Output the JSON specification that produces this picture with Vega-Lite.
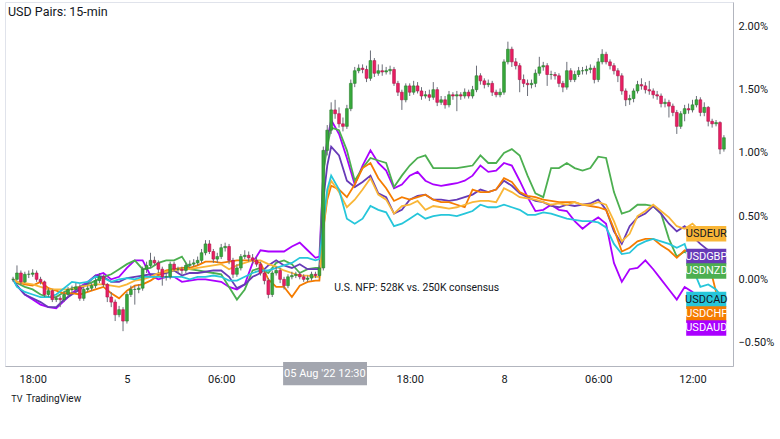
{
"$schema":"https://vega.github.io/schema/vega-lite/v6.json",
"width":728,"height":364,
"autosize":{"type":"none"},
"padding":{"left":5,"top":2,"right":47,"bottom":73},
"background":"white",
"config":{"view":{"stroke":"#e0e3eb"},"font":"Roboto"},
"title":{"text":"USD Pairs: 15-min","anchor":"start","frame":"group","orient":"top","offset":-16,"dx":3,"fontSize":12.5,"fontWeight":"normal","color":"#131722","font":"Roboto"},
"datasets":{
"candles":[
{"t":-1.25,"o":0,"h":0.02,"l":-0.02,"c":0},
{"t":-1,"o":0,"h":0.11,"l":-0.01,"c":0.05},
{"t":-0.75,"o":0.05,"h":0.07,"l":-0.04,"c":-0.02},
{"t":-0.5,"o":-0.02,"h":0.06,"l":-0.03,"c":0.04},
{"t":-0.25,"o":0.04,"h":0.07,"l":0.01,"c":0.04},
{"t":0,"o":0.04,"h":0.08,"l":0.02,"c":0.05},
{"t":0.25,"o":0.05,"h":0.07,"l":-0.02,"c":0},
{"t":0.5,"o":0,"h":0.02,"l":-0.04,"c":-0.02},
{"t":0.75,"o":-0.02,"h":-0.01,"l":-0.14,"c":-0.12},
{"t":1,"o":-0.12,"h":-0.07,"l":-0.14,"c":-0.09},
{"t":1.25,"o":-0.09,"h":-0.08,"l":-0.18,"c":-0.16},
{"t":1.5,"o":-0.16,"h":-0.13,"l":-0.18,"c":-0.15},
{"t":1.75,"o":-0.15,"h":-0.13,"l":-0.22,"c":-0.16},
{"t":2,"o":-0.16,"h":-0.1,"l":-0.18,"c":-0.12},
{"t":2.25,"o":-0.12,"h":-0.06,"l":-0.14,"c":-0.08},
{"t":2.5,"o":-0.08,"h":-0.05,"l":-0.11,"c":-0.08},
{"t":2.75,"o":-0.08,"h":-0.03,"l":-0.1,"c":-0.06},
{"t":3,"o":-0.06,"h":-0.04,"l":-0.17,"c":-0.15},
{"t":3.25,"o":-0.15,"h":-0.06,"l":-0.17,"c":-0.08},
{"t":3.5,"o":-0.08,"h":-0.05,"l":-0.1,"c":-0.07},
{"t":3.75,"o":-0.07,"h":-0.03,"l":-0.09,"c":-0.05},
{"t":4,"o":-0.05,"h":0.01,"l":-0.07,"c":-0.01},
{"t":4.25,"o":-0.01,"h":0.05,"l":-0.03,"c":0.02},
{"t":4.5,"o":0.02,"h":0.04,"l":-0.06,"c":-0.04},
{"t":4.75,"o":-0.04,"h":-0.03,"l":-0.18,"c":-0.14},
{"t":5,"o":-0.14,"h":-0.1,"l":-0.22,"c":-0.18},
{"t":5.25,"o":-0.18,"h":-0.16,"l":-0.33,"c":-0.28},
{"t":5.5,"o":-0.28,"h":-0.21,"l":-0.3,"c":-0.24},
{"t":5.75,"o":-0.24,"h":-0.22,"l":-0.41,"c":-0.33},
{"t":6,"o":-0.33,"h":-0.1,"l":-0.35,"c":-0.12},
{"t":6.25,"o":-0.12,"h":-0.05,"l":-0.14,"c":-0.08},
{"t":6.5,"o":-0.08,"h":-0.05,"l":-0.2,"c":-0.08},
{"t":6.75,"o":-0.08,"h":-0.04,"l":-0.11,"c":-0.07},
{"t":7,"o":-0.07,"h":0.1,"l":-0.09,"c":0.08},
{"t":7.25,"o":0.08,"h":0.14,"l":0.05,"c":0.11},
{"t":7.5,"o":0.11,"h":0.21,"l":0.09,"c":0.15},
{"t":7.75,"o":0.15,"h":0.18,"l":0.11,"c":0.13},
{"t":8,"o":0.13,"h":0.15,"l":0.05,"c":0.08},
{"t":8.25,"o":0.08,"h":0.1,"l":-0.05,"c":0.02},
{"t":8.5,"o":0.02,"h":0.05,"l":-0.01,"c":0.02},
{"t":8.75,"o":0.02,"h":0.14,"l":0,"c":0.12},
{"t":9,"o":0.12,"h":0.14,"l":0.06,"c":0.08},
{"t":9.25,"o":0.08,"h":0.1,"l":0.05,"c":0.08},
{"t":9.5,"o":0.08,"h":0.1,"l":0.04,"c":0.07},
{"t":9.75,"o":0.07,"h":0.13,"l":0.05,"c":0.11},
{"t":10,"o":0.11,"h":0.15,"l":0.09,"c":0.12},
{"t":10.25,"o":0.12,"h":0.16,"l":0.1,"c":0.13},
{"t":10.5,"o":0.13,"h":0.18,"l":0.11,"c":0.15},
{"t":10.75,"o":0.15,"h":0.24,"l":0.13,"c":0.21},
{"t":11,"o":0.21,"h":0.31,"l":0.19,"c":0.28},
{"t":11.25,"o":0.28,"h":0.31,"l":0.2,"c":0.22},
{"t":11.5,"o":0.22,"h":0.24,"l":0.13,"c":0.16},
{"t":11.75,"o":0.16,"h":0.21,"l":0.13,"c":0.18},
{"t":12,"o":0.18,"h":0.28,"l":0.16,"c":0.25},
{"t":12.25,"o":0.25,"h":0.29,"l":0.22,"c":0.26},
{"t":12.5,"o":0.26,"h":0.28,"l":0.12,"c":0.15},
{"t":12.75,"o":0.15,"h":0.17,"l":0.01,"c":0.04},
{"t":13,"o":0.04,"h":0.12,"l":0.02,"c":0.09},
{"t":13.25,"o":0.09,"h":0.2,"l":0.07,"c":0.18},
{"t":13.5,"o":0.18,"h":0.23,"l":0.16,"c":0.19},
{"t":13.75,"o":0.19,"h":0.22,"l":0.14,"c":0.17},
{"t":14,"o":0.17,"h":0.2,"l":0.12,"c":0.15},
{"t":14.25,"o":0.15,"h":0.18,"l":0.1,"c":0.12},
{"t":14.5,"o":0.12,"h":0.14,"l":0.03,"c":0.05},
{"t":14.75,"o":0.05,"h":0.07,"l":-0.04,"c":-0.01},
{"t":15,"o":-0.01,"h":0.01,"l":-0.15,"c":-0.12},
{"t":15.25,"o":-0.12,"h":0.07,"l":-0.14,"c":0.05},
{"t":15.5,"o":0.05,"h":0.1,"l":0.03,"c":0.07},
{"t":15.75,"o":0.07,"h":0.09,"l":-0.03,"c":0},
{"t":16,"o":0,"h":0.02,"l":-0.08,"c":-0.05},
{"t":16.25,"o":-0.05,"h":0.04,"l":-0.07,"c":0.02},
{"t":16.5,"o":0.02,"h":0.06,"l":0,"c":0.03},
{"t":16.75,"o":0.03,"h":0.06,"l":0.01,"c":0.04},
{"t":17,"o":0.04,"h":0.06,"l":0,"c":0.02},
{"t":17.25,"o":0.02,"h":0.04,"l":-0.02,"c":0},
{"t":17.5,"o":0,"h":0.03,"l":-0.02,"c":0.01},
{"t":17.75,"o":0.01,"h":0.06,"l":-0.01,"c":0.04},
{"t":18,"o":0.04,"h":0.06,"l":0.01,"c":0.03},
{"t":18.25,"o":0.03,"h":0.11,"l":0.01,"c":0.09},
{"t":18.5,"o":0.09,"h":1.05,"l":0.07,"c":1.02},
{"t":18.75,"o":1.02,"h":1.22,"l":0.98,"c":1.18},
{"t":19,"o":1.18,"h":1.4,"l":1.15,"c":1.34},
{"t":19.25,"o":1.34,"h":1.42,"l":1.27,"c":1.31},
{"t":19.5,"o":1.31,"h":1.36,"l":1.2,"c":1.23},
{"t":19.75,"o":1.23,"h":1.28,"l":1.17,"c":1.21},
{"t":20,"o":1.21,"h":1.38,"l":1.19,"c":1.35},
{"t":20.25,"o":1.35,"h":1.58,"l":1.33,"c":1.55},
{"t":20.5,"o":1.55,"h":1.68,"l":1.52,"c":1.65},
{"t":20.75,"o":1.65,"h":1.7,"l":1.63,"c":1.67},
{"t":21,"o":1.67,"h":1.7,"l":1.63,"c":1.66},
{"t":21.25,"o":1.66,"h":1.69,"l":1.56,"c":1.59},
{"t":21.5,"o":1.59,"h":1.81,"l":1.57,"c":1.73},
{"t":21.75,"o":1.73,"h":1.75,"l":1.6,"c":1.63},
{"t":22,"o":1.63,"h":1.7,"l":1.61,"c":1.65},
{"t":22.25,"o":1.65,"h":1.7,"l":1.61,"c":1.64},
{"t":22.5,"o":1.64,"h":1.68,"l":1.62,"c":1.65},
{"t":22.75,"o":1.65,"h":1.69,"l":1.62,"c":1.66},
{"t":23,"o":1.66,"h":1.68,"l":1.53,"c":1.55},
{"t":23.25,"o":1.55,"h":1.57,"l":1.45,"c":1.48},
{"t":23.5,"o":1.48,"h":1.5,"l":1.34,"c":1.42},
{"t":23.75,"o":1.42,"h":1.55,"l":1.4,"c":1.53},
{"t":24,"o":1.53,"h":1.55,"l":1.45,"c":1.48},
{"t":24.25,"o":1.48,"h":1.57,"l":1.46,"c":1.53},
{"t":24.5,"o":1.53,"h":1.56,"l":1.47,"c":1.49},
{"t":24.75,"o":1.49,"h":1.52,"l":1.42,"c":1.45},
{"t":25,"o":1.45,"h":1.49,"l":1.43,"c":1.46},
{"t":25.25,"o":1.46,"h":1.5,"l":1.41,"c":1.44},
{"t":25.5,"o":1.44,"h":1.56,"l":1.42,"c":1.5},
{"t":25.75,"o":1.5,"h":1.52,"l":1.37,"c":1.4},
{"t":26,"o":1.4,"h":1.45,"l":1.38,"c":1.42},
{"t":26.25,"o":1.42,"h":1.45,"l":1.35,"c":1.38},
{"t":26.5,"o":1.38,"h":1.49,"l":1.36,"c":1.46},
{"t":26.75,"o":1.46,"h":1.48,"l":1.42,"c":1.45},
{"t":27,"o":1.45,"h":1.49,"l":1.33,"c":1.46},
{"t":27.25,"o":1.46,"h":1.48,"l":1.42,"c":1.45},
{"t":27.5,"o":1.45,"h":1.51,"l":1.43,"c":1.48},
{"t":27.75,"o":1.48,"h":1.5,"l":1.43,"c":1.45},
{"t":28,"o":1.45,"h":1.53,"l":1.43,"c":1.5},
{"t":28.25,"o":1.5,"h":1.69,"l":1.48,"c":1.61},
{"t":28.5,"o":1.61,"h":1.63,"l":1.54,"c":1.57},
{"t":28.75,"o":1.57,"h":1.59,"l":1.51,"c":1.54},
{"t":29,"o":1.54,"h":1.58,"l":1.52,"c":1.55},
{"t":29.25,"o":1.55,"h":1.57,"l":1.45,"c":1.48},
{"t":29.5,"o":1.48,"h":1.5,"l":1.44,"c":1.46},
{"t":29.75,"o":1.46,"h":1.51,"l":1.44,"c":1.48},
{"t":30,"o":1.48,"h":1.74,"l":1.46,"c":1.72},
{"t":30.25,"o":1.72,"h":1.88,"l":1.7,"c":1.82},
{"t":30.5,"o":1.82,"h":1.84,"l":1.68,"c":1.72},
{"t":30.75,"o":1.72,"h":1.75,"l":1.66,"c":1.69},
{"t":31,"o":1.69,"h":1.71,"l":1.48,"c":1.58},
{"t":31.25,"o":1.58,"h":1.62,"l":1.52,"c":1.55},
{"t":31.5,"o":1.55,"h":1.58,"l":1.45,"c":1.54},
{"t":31.75,"o":1.54,"h":1.58,"l":1.51,"c":1.55},
{"t":32,"o":1.55,"h":1.66,"l":1.52,"c":1.63},
{"t":32.25,"o":1.63,"h":1.76,"l":1.61,"c":1.68},
{"t":32.5,"o":1.68,"h":1.72,"l":1.65,"c":1.69},
{"t":32.75,"o":1.69,"h":1.71,"l":1.53,"c":1.62},
{"t":33,"o":1.62,"h":1.65,"l":1.58,"c":1.62},
{"t":33.25,"o":1.62,"h":1.64,"l":1.58,"c":1.61},
{"t":33.5,"o":1.61,"h":1.63,"l":1.52,"c":1.55},
{"t":33.75,"o":1.55,"h":1.57,"l":1.48,"c":1.52},
{"t":34,"o":1.52,"h":1.72,"l":1.5,"c":1.65},
{"t":34.25,"o":1.65,"h":1.67,"l":1.56,"c":1.58},
{"t":34.5,"o":1.58,"h":1.65,"l":1.56,"c":1.62},
{"t":34.75,"o":1.62,"h":1.68,"l":1.6,"c":1.65},
{"t":35,"o":1.65,"h":1.68,"l":1.62,"c":1.65},
{"t":35.25,"o":1.65,"h":1.69,"l":1.62,"c":1.66},
{"t":35.5,"o":1.66,"h":1.7,"l":1.63,"c":1.67},
{"t":35.75,"o":1.67,"h":1.69,"l":1.55,"c":1.58},
{"t":36,"o":1.58,"h":1.75,"l":1.56,"c":1.72},
{"t":36.25,"o":1.72,"h":1.82,"l":1.7,"c":1.78},
{"t":36.5,"o":1.78,"h":1.8,"l":1.7,"c":1.72},
{"t":36.75,"o":1.72,"h":1.74,"l":1.66,"c":1.69},
{"t":37,"o":1.69,"h":1.71,"l":1.62,"c":1.65},
{"t":37.25,"o":1.65,"h":1.67,"l":1.56,"c":1.61},
{"t":37.5,"o":1.61,"h":1.63,"l":1.46,"c":1.49},
{"t":37.75,"o":1.49,"h":1.51,"l":1.37,"c":1.42},
{"t":38,"o":1.42,"h":1.46,"l":1.38,"c":1.43},
{"t":38.25,"o":1.43,"h":1.51,"l":1.4,"c":1.49},
{"t":38.5,"o":1.49,"h":1.57,"l":1.47,"c":1.54},
{"t":38.75,"o":1.54,"h":1.59,"l":1.5,"c":1.53},
{"t":39,"o":1.53,"h":1.56,"l":1.47,"c":1.5},
{"t":39.25,"o":1.5,"h":1.57,"l":1.46,"c":1.49},
{"t":39.5,"o":1.49,"h":1.51,"l":1.43,"c":1.46},
{"t":39.75,"o":1.46,"h":1.49,"l":1.42,"c":1.45},
{"t":40,"o":1.45,"h":1.47,"l":1.36,"c":1.39},
{"t":40.25,"o":1.39,"h":1.43,"l":1.36,"c":1.4},
{"t":40.5,"o":1.4,"h":1.42,"l":1.28,"c":1.37},
{"t":40.75,"o":1.37,"h":1.39,"l":1.29,"c":1.32},
{"t":41,"o":1.32,"h":1.34,"l":1.15,"c":1.21},
{"t":41.25,"o":1.21,"h":1.33,"l":1.19,"c":1.31},
{"t":41.5,"o":1.31,"h":1.38,"l":1.25,"c":1.35},
{"t":41.75,"o":1.35,"h":1.39,"l":1.31,"c":1.34},
{"t":42,"o":1.34,"h":1.42,"l":1.32,"c":1.38},
{"t":42.25,"o":1.38,"h":1.45,"l":1.36,"c":1.42},
{"t":42.5,"o":1.42,"h":1.44,"l":1.29,"c":1.32},
{"t":42.75,"o":1.32,"h":1.4,"l":1.29,"c":1.36},
{"t":43,"o":1.36,"h":1.37,"l":1.21,"c":1.25},
{"t":43.25,"o":1.25,"h":1.27,"l":1.2,"c":1.23},
{"t":43.5,"o":1.23,"h":1.26,"l":1.21,"c":1.24},
{"t":43.75,"o":1.24,"h":1.25,"l":0.99,"c":1.03},
{"t":44,"o":1.03,"h":1.14,"l":1.01,"c":1.12}
],
"lines":[
{"t":-1.25,"USDAUD":0,"USDNZD":0,"USDGBP":0,"USDCHF":0,"USDEUR":0,"USDCAD":0},
{"t":-1,"USDAUD":-0.05,"USDNZD":-0.03,"USDGBP":-0.05,"USDCHF":-0.02,"USDEUR":-0.02,"USDCAD":-0.06},
{"t":-0.5,"USDAUD":-0.12,"USDNZD":-0.06,"USDGBP":-0.12,"USDCHF":-0.04,"USDEUR":-0.03,"USDCAD":-0.1},
{"t":0,"USDAUD":-0.16,"USDNZD":-0.08,"USDGBP":-0.15,"USDCHF":-0.05,"USDEUR":-0.04,"USDCAD":-0.12},
{"t":0.5,"USDAUD":-0.2,"USDNZD":-0.12,"USDGBP":-0.18,"USDCHF":-0.02,"USDEUR":-0.06,"USDCAD":-0.14},
{"t":1,"USDAUD":-0.22,"USDNZD":-0.14,"USDGBP":-0.22,"USDCHF":-0.07,"USDEUR":-0.08,"USDCAD":-0.14},
{"t":1.5,"USDAUD":-0.23,"USDNZD":-0.14,"USDGBP":-0.22,"USDCHF":-0.09,"USDEUR":-0.08,"USDCAD":-0.12},
{"t":2,"USDAUD":-0.17,"USDNZD":-0.1,"USDGBP":-0.16,"USDCHF":-0.11,"USDEUR":-0.08,"USDCAD":-0.07},
{"t":2.5,"USDAUD":-0.11,"USDNZD":-0.07,"USDGBP":-0.12,"USDCHF":-0.11,"USDEUR":-0.08,"USDCAD":-0.02},
{"t":3,"USDAUD":-0.06,"USDNZD":-0.06,"USDGBP":-0.08,"USDCHF":-0.12,"USDEUR":-0.06,"USDCAD":-0.03},
{"t":3.5,"USDAUD":-0.02,"USDNZD":-0.04,"USDGBP":-0.03,"USDCHF":-0.1,"USDEUR":-0.05,"USDCAD":-0.02},
{"t":4,"USDAUD":0.03,"USDNZD":-0.01,"USDGBP":0.03,"USDCHF":-0.08,"USDEUR":-0.04,"USDCAD":0.02},
{"t":4.5,"USDAUD":0.05,"USDNZD":0.02,"USDGBP":0.02,"USDCHF":-0.06,"USDEUR":-0.04,"USDCAD":0.01},
{"t":5,"USDAUD":0,"USDNZD":0.04,"USDGBP":-0.02,"USDCHF":-0.11,"USDEUR":-0.05,"USDCAD":-0.02},
{"t":5.5,"USDAUD":0.02,"USDNZD":0.08,"USDGBP":-0.02,"USDCHF":-0.15,"USDEUR":-0.06,"USDCAD":0},
{"t":6,"USDAUD":0.09,"USDNZD":0.12,"USDGBP":0.01,"USDCHF":-0.09,"USDEUR":-0.04,"USDCAD":0.01},
{"t":6.5,"USDAUD":0.15,"USDNZD":0.15,"USDGBP":0.02,"USDCHF":-0.05,"USDEUR":-0.01,"USDCAD":0},
{"t":7,"USDAUD":0.15,"USDNZD":0.08,"USDGBP":0.03,"USDCHF":-0.04,"USDEUR":0,"USDCAD":0.02},
{"t":7.5,"USDAUD":0.03,"USDNZD":0.09,"USDGBP":0.04,"USDCHF":-0.01,"USDEUR":0.02,"USDCAD":0.02},
{"t":8,"USDAUD":0,"USDNZD":0.13,"USDGBP":0.04,"USDCHF":0.03,"USDEUR":0.05,"USDCAD":0.02},
{"t":8.5,"USDAUD":0.02,"USDNZD":0.15,"USDGBP":0.05,"USDCHF":0.07,"USDEUR":0.06,"USDCAD":0.02},
{"t":9,"USDAUD":0.02,"USDNZD":0.15,"USDGBP":0.07,"USDCHF":0.08,"USDEUR":0.07,"USDCAD":0.02},
{"t":9.5,"USDAUD":-0.02,"USDNZD":0.18,"USDGBP":0.03,"USDCHF":0.09,"USDEUR":0.08,"USDCAD":0.02},
{"t":10,"USDAUD":-0.01,"USDNZD":0.08,"USDGBP":0.05,"USDCHF":0.09,"USDEUR":0.08,"USDCAD":0},
{"t":10.5,"USDAUD":0,"USDNZD":0.07,"USDGBP":0.05,"USDCHF":0.11,"USDEUR":0.09,"USDCAD":0.02},
{"t":11,"USDAUD":0,"USDNZD":0.06,"USDGBP":0.06,"USDCHF":0.14,"USDEUR":0.1,"USDCAD":0.02},
{"t":11.5,"USDAUD":-0.01,"USDNZD":0.05,"USDGBP":0.07,"USDCHF":0.14,"USDEUR":0.11,"USDCAD":0.03},
{"t":12,"USDAUD":-0.02,"USDNZD":0.04,"USDGBP":0.07,"USDCHF":0.13,"USDEUR":0.12,"USDCAD":0.02},
{"t":12.5,"USDAUD":-0.06,"USDNZD":-0.06,"USDGBP":0.02,"USDCHF":0.14,"USDEUR":0.08,"USDCAD":-0.01},
{"t":13,"USDAUD":-0.08,"USDNZD":-0.16,"USDGBP":-0.07,"USDCHF":0.15,"USDEUR":0.11,"USDCAD":-0.01},
{"t":13.5,"USDAUD":-0.04,"USDNZD":-0.08,"USDGBP":-0.04,"USDCHF":0.15,"USDEUR":0.13,"USDCAD":0.02},
{"t":14,"USDAUD":0.13,"USDNZD":0.07,"USDGBP":0.02,"USDCHF":0.15,"USDEUR":0.15,"USDCAD":0.05},
{"t":14.5,"USDAUD":0.23,"USDNZD":0.09,"USDGBP":0.05,"USDCHF":0.13,"USDEUR":0.15,"USDCAD":0.07},
{"t":15,"USDAUD":0.22,"USDNZD":0.05,"USDGBP":0.11,"USDCHF":0,"USDEUR":0.12,"USDCAD":0.07},
{"t":15.5,"USDAUD":0.22,"USDNZD":0.13,"USDGBP":0.15,"USDCHF":-0.06,"USDEUR":0.1,"USDCAD":0.09},
{"t":16,"USDAUD":0.22,"USDNZD":0.15,"USDGBP":0.11,"USDCHF":-0.06,"USDEUR":0.07,"USDCAD":0.11},
{"t":16.5,"USDAUD":0.26,"USDNZD":0.12,"USDGBP":0.09,"USDCHF":-0.14,"USDEUR":0.05,"USDCAD":0.13},
{"t":17,"USDAUD":0.29,"USDNZD":0.05,"USDGBP":0.12,"USDCHF":-0.05,"USDEUR":0.03,"USDCAD":0.17},
{"t":17.5,"USDAUD":0.23,"USDNZD":0.08,"USDGBP":0.08,"USDCHF":-0.02,"USDEUR":0.03,"USDCAD":0.17},
{"t":18,"USDAUD":0.17,"USDNZD":0.09,"USDGBP":0.08,"USDCHF":-0.01,"USDEUR":0.02,"USDCAD":0.15},
{"t":18.25,"USDAUD":0.18,"USDNZD":0.09,"USDGBP":0.08,"USDCHF":-0.01,"USDEUR":0.02,"USDCAD":0.16},
{"t":18.5,"USDAUD":0.85,"USDNZD":0.85,"USDGBP":0.63,"USDCHF":0.4,"USDEUR":0.4,"USDCAD":0.44},
{"t":18.75,"USDAUD":1.1,"USDNZD":1.05,"USDGBP":0.9,"USDCHF":0.63,"USDEUR":0.67,"USDCAD":0.71},
{"t":19,"USDAUD":1.26,"USDNZD":1.2,"USDGBP":1.05,"USDCHF":0.74,"USDEUR":0.78,"USDCAD":0.82},
{"t":19.5,"USDAUD":1.15,"USDNZD":1.18,"USDGBP":0.98,"USDCHF":0.71,"USDEUR":0.69,"USDCAD":0.71},
{"t":20,"USDAUD":0.96,"USDNZD":1.02,"USDGBP":0.78,"USDCHF":0.65,"USDEUR":0.57,"USDCAD":0.48},
{"t":20.5,"USDAUD":0.75,"USDNZD":0.78,"USDGBP":0.73,"USDCHF":0.75,"USDEUR":0.63,"USDCAD":0.44},
{"t":21,"USDAUD":0.9,"USDNZD":0.88,"USDGBP":0.77,"USDCHF":0.88,"USDEUR":0.71,"USDCAD":0.48},
{"t":21.5,"USDAUD":1.02,"USDNZD":0.96,"USDGBP":0.82,"USDCHF":0.92,"USDEUR":0.8,"USDCAD":0.58},
{"t":22,"USDAUD":0.92,"USDNZD":0.94,"USDGBP":0.68,"USDCHF":0.8,"USDEUR":0.67,"USDCAD":0.55},
{"t":22.5,"USDAUD":0.86,"USDNZD":0.92,"USDGBP":0.65,"USDCHF":0.72,"USDEUR":0.63,"USDCAD":0.53},
{"t":23,"USDAUD":0.72,"USDNZD":0.73,"USDGBP":0.52,"USDCHF":0.62,"USDEUR":0.52,"USDCAD":0.42},
{"t":23.5,"USDAUD":0.75,"USDNZD":0.82,"USDGBP":0.55,"USDCHF":0.65,"USDEUR":0.58,"USDCAD":0.44},
{"t":24,"USDAUD":0.82,"USDNZD":0.9,"USDGBP":0.63,"USDCHF":0.63,"USDEUR":0.59,"USDCAD":0.48},
{"t":24.5,"USDAUD":0.85,"USDNZD":0.96,"USDGBP":0.66,"USDCHF":0.65,"USDEUR":0.62,"USDCAD":0.52},
{"t":25,"USDAUD":0.78,"USDNZD":0.98,"USDGBP":0.67,"USDCHF":0.67,"USDEUR":0.55,"USDCAD":0.48},
{"t":25.5,"USDAUD":0.75,"USDNZD":0.88,"USDGBP":0.63,"USDCHF":0.63,"USDEUR":0.58,"USDCAD":0.5},
{"t":26,"USDAUD":0.74,"USDNZD":0.88,"USDGBP":0.63,"USDCHF":0.61,"USDEUR":0.57,"USDCAD":0.51},
{"t":26.5,"USDAUD":0.75,"USDNZD":0.88,"USDGBP":0.62,"USDCHF":0.61,"USDEUR":0.56,"USDCAD":0.51},
{"t":27,"USDAUD":0.76,"USDNZD":0.88,"USDGBP":0.63,"USDCHF":0.59,"USDEUR":0.57,"USDCAD":0.5},
{"t":27.5,"USDAUD":0.78,"USDNZD":0.89,"USDGBP":0.65,"USDCHF":0.57,"USDEUR":0.59,"USDCAD":0.52},
{"t":28,"USDAUD":0.82,"USDNZD":0.9,"USDGBP":0.67,"USDCHF":0.71,"USDEUR":0.61,"USDCAD":0.54},
{"t":28.5,"USDAUD":0.9,"USDNZD":0.98,"USDGBP":0.71,"USDCHF":0.69,"USDEUR":0.62,"USDCAD":0.59},
{"t":29,"USDAUD":0.85,"USDNZD":0.92,"USDGBP":0.69,"USDCHF":0.69,"USDEUR":0.62,"USDCAD":0.57},
{"t":29.5,"USDAUD":0.86,"USDNZD":0.92,"USDGBP":0.71,"USDCHF":0.71,"USDEUR":0.61,"USDCAD":0.57},
{"t":30,"USDAUD":0.92,"USDNZD":1,"USDGBP":0.78,"USDCHF":0.8,"USDEUR":0.72,"USDCAD":0.59},
{"t":30.5,"USDAUD":0.9,"USDNZD":1.03,"USDGBP":0.74,"USDCHF":0.77,"USDEUR":0.69,"USDCAD":0.57},
{"t":31,"USDAUD":0.78,"USDNZD":0.98,"USDGBP":0.68,"USDCHF":0.69,"USDEUR":0.65,"USDCAD":0.55},
{"t":31.5,"USDAUD":0.65,"USDNZD":0.82,"USDGBP":0.65,"USDCHF":0.66,"USDEUR":0.64,"USDCAD":0.51},
{"t":32,"USDAUD":0.54,"USDNZD":0.68,"USDGBP":0.62,"USDCHF":0.65,"USDEUR":0.63,"USDCAD":0.51},
{"t":32.5,"USDAUD":0.55,"USDNZD":0.65,"USDGBP":0.61,"USDCHF":0.63,"USDEUR":0.61,"USDCAD":0.53},
{"t":33,"USDAUD":0.59,"USDNZD":0.88,"USDGBP":0.58,"USDCHF":0.62,"USDEUR":0.59,"USDCAD":0.52},
{"t":33.5,"USDAUD":0.55,"USDNZD":0.88,"USDGBP":0.57,"USDCHF":0.61,"USDEUR":0.6,"USDCAD":0.5},
{"t":34,"USDAUD":0.54,"USDNZD":0.92,"USDGBP":0.59,"USDCHF":0.61,"USDEUR":0.59,"USDCAD":0.48},
{"t":34.5,"USDAUD":0.46,"USDNZD":0.88,"USDGBP":0.58,"USDCHF":0.61,"USDEUR":0.61,"USDCAD":0.47},
{"t":35,"USDAUD":0.4,"USDNZD":0.86,"USDGBP":0.59,"USDCHF":0.59,"USDEUR":0.59,"USDCAD":0.46},
{"t":35.5,"USDAUD":0.45,"USDNZD":0.88,"USDGBP":0.6,"USDCHF":0.58,"USDEUR":0.59,"USDCAD":0.46},
{"t":36,"USDAUD":0.49,"USDNZD":0.97,"USDGBP":0.63,"USDCHF":0.57,"USDEUR":0.61,"USDCAD":0.45},
{"t":36.5,"USDAUD":0.44,"USDNZD":0.96,"USDGBP":0.55,"USDCHF":0.55,"USDEUR":0.59,"USDCAD":0.41},
{"t":37,"USDAUD":0.13,"USDNZD":0.69,"USDGBP":0.38,"USDCHF":0.4,"USDEUR":0.46,"USDCAD":0.28},
{"t":37.5,"USDAUD":-0.02,"USDNZD":0.52,"USDGBP":0.28,"USDCHF":0.22,"USDEUR":0.3,"USDCAD":0.2},
{"t":38,"USDAUD":0.08,"USDNZD":0.54,"USDGBP":0.42,"USDCHF":0.25,"USDEUR":0.36,"USDCAD":0.21},
{"t":38.5,"USDAUD":0.09,"USDNZD":0.59,"USDGBP":0.49,"USDCHF":0.3,"USDEUR":0.5,"USDCAD":0.27},
{"t":39,"USDAUD":0.15,"USDNZD":0.59,"USDGBP":0.52,"USDCHF":0.32,"USDEUR":0.54,"USDCAD":0.3},
{"t":39.5,"USDAUD":0.08,"USDNZD":0.58,"USDGBP":0.58,"USDCHF":0.32,"USDEUR":0.59,"USDCAD":0.32},
{"t":40,"USDAUD":0,"USDNZD":0.52,"USDGBP":0.52,"USDCHF":0.27,"USDEUR":0.54,"USDCAD":0.3},
{"t":40.5,"USDAUD":-0.08,"USDNZD":0.32,"USDGBP":0.44,"USDCHF":0.23,"USDEUR":0.49,"USDCAD":0.28},
{"t":41,"USDAUD":-0.16,"USDNZD":0.18,"USDGBP":0.38,"USDCHF":0.17,"USDEUR":0.42,"USDCAD":0.25},
{"t":41.5,"USDAUD":-0.06,"USDNZD":0.22,"USDGBP":0.42,"USDCHF":0.23,"USDEUR":0.4,"USDCAD":0.28},
{"t":42,"USDAUD":-0.1,"USDNZD":0.17,"USDGBP":0.34,"USDCHF":0.21,"USDEUR":0.44,"USDCAD":0.09},
{"t":42.5,"USDAUD":-0.18,"USDNZD":0.13,"USDGBP":0.28,"USDCHF":0.18,"USDEUR":0.38,"USDCAD":-0.06},
{"t":43,"USDAUD":-0.28,"USDNZD":0.11,"USDGBP":0.23,"USDCHF":0.15,"USDEUR":0.4,"USDCAD":-0.04},
{"t":43.5,"USDAUD":-0.33,"USDNZD":0.09,"USDGBP":0.2,"USDCHF":-0.1,"USDEUR":0.37,"USDCAD":-0.08},
{"t":43.75,"USDAUD":-0.37,"USDNZD":0.08,"USDGBP":0.18,"USDCHF":-0.18,"USDEUR":0.36,"USDCAD":-0.12}
],
"tags":[
{"pair":"USDEUR","lv":0.36},
{"pair":"USDGBP","lv":0.18},
{"pair":"USDNZD","lv":0.065},
{"pair":"USDCAD","lv":-0.16},
{"pair":"USDCHF","lv":-0.275},
{"pair":"USDAUD","lv":-0.385}
],
"notes":[{"t":19.2,"v":-0.07,"label":"U.S. NFP: 528K vs. 250K consensus"}],
"cross":[{"t":18.6,"t1":15.94,"t2":21.28,"v":-0.745,"v1":-0.654,"v2":-0.838,"label":"05 Aug '22   12:30"}],
"brand":[{"t":-0.42,"v":-0.946,"label":"TradingView"},{"t":-1.36,"v":-0.946,"label":"TV"}]
},
"layer":[
{"mark":{"type":"rule","color":"#d1d4dc","strokeWidth":1},
 "encoding":{"y":{"datum":0,"type":"quantitative","scale":{"domain":[-0.646,2.154],"nice":false,"zero":false},
   "axis":{"orient":"right","values":[-0.5,0,0.5,1,1.5,2],"labelExpr":"format(datum.value,'.2f')+'%'","grid":false,"ticks":false,"tickSize":0,"labelPadding":5,"domainColor":"#b2b5be","labelColor":"#131722","labelFontSize":11,"labelFont":"Roboto","title":null}}}},
{"mark":{"type":"rule","color":"#c9ccd4","strokeWidth":1},
 "encoding":{"x":{"datum":18.5,"type":"quantitative","scale":{"domain":[-1.444,44.26],"nice":false,"zero":false},
   "axis":{"orient":"bottom","values":[0,6,12,24,30,36,42],"labelExpr":"datum.value==0?'18:00':datum.value==6?'5':datum.value==12?'06:00':datum.value==24?'18:00':datum.value==30?'8':datum.value==36?'06:00':'12:00'","grid":false,"ticks":false,"tickSize":0,"labelPadding":7,"domainColor":"#b2b5be","labelColor":"#131722","labelFontSize":11,"labelFont":"Roboto","title":null}}}},
{"data":{"name":"lines"},
 "transform":[{"fold":["USDAUD","USDNZD","USDGBP","USDCHF","USDEUR","USDCAD"],"as":["pair","pct"]}],
 "mark":{"type":"line","strokeWidth":1.8,"interpolate":"linear"},
 "encoding":{"x":{"field":"t","type":"quantitative"},"y":{"field":"pct","type":"quantitative"},
  "color":{"field":"pair","type":"nominal","legend":null,"scale":{"domain":["USDEUR","USDGBP","USDNZD","USDCAD","USDCHF","USDAUD"],"range":["#F9B637","#673AB7","#4CAF50","#26C6DA","#F57C00","#AA00FF"]}}}},
{"data":{"name":"candles"},
 "mark":{"type":"rule","color":"#6b6e78","strokeWidth":1},
 "encoding":{"x":{"field":"t","type":"quantitative"},"y":{"field":"l","type":"quantitative"},"y2":{"field":"h"}}},
{"data":{"name":"candles"},
 "mark":{"type":"bar","size":2.8,"strokeWidth":0.6},
 "encoding":{"x":{"field":"t","type":"quantitative"},"y":{"field":"o","type":"quantitative"},"y2":{"field":"c"},
  "fill":{"condition":{"test":"datum.c>=datum.o","value":"#37A93B"},"value":"#E91E63"},
  "stroke":{"condition":{"test":"datum.c>=datum.o","value":"#2a7d2d"},"value":"#b0164a"}}},
{"data":{"name":"tags"},
 "mark":{"type":"bar","size":15.5},
 "encoding":{"x":{"datum":41.6,"type":"quantitative"},"x2":{"datum":44.15},"y":{"field":"lv","type":"quantitative"},
  "color":{"field":"pair","type":"nominal","legend":null}}},
{"data":{"name":"tags"},
 "mark":{"type":"text","fontSize":11,"font":"Roboto","align":"center","baseline":"middle"},
 "encoding":{"x":{"datum":42.88,"type":"quantitative"},"y":{"field":"lv","type":"quantitative"},"text":{"field":"pair"},
  "color":{"condition":{"test":"datum.pair==='USDEUR'||datum.pair==='USDCAD'","value":"#131722"},"value":"#ffffff"}}},
{"data":{"name":"notes"},
 "mark":{"type":"text","fontSize":10.4,"font":"Roboto","align":"left","baseline":"middle","color":"#131722"},
 "encoding":{"x":{"field":"t","type":"quantitative"},"y":{"field":"v","type":"quantitative"},"text":{"field":"label"}}},
{"data":{"name":"cross"},
 "mark":{"type":"rect","color":"#a3a6af","clip":false},
 "encoding":{"x":{"field":"t1","type":"quantitative"},"x2":{"field":"t2"},"y":{"field":"v1","type":"quantitative"},"y2":{"field":"v2"}}},
{"data":{"name":"cross"},
 "mark":{"type":"text","fontSize":11,"font":"Roboto","align":"center","baseline":"middle","color":"#ffffff","clip":false},
 "encoding":{"x":{"field":"t","type":"quantitative"},"y":{"field":"v","type":"quantitative"},"text":{"field":"label"}}},
{"data":{"name":"brand"},
 "mark":{"type":"text","font":"Roboto","align":"left","baseline":"middle","color":"#131722","clip":false},
 "encoding":{"x":{"field":"t","type":"quantitative"},"y":{"field":"v","type":"quantitative"},"text":{"field":"label"},
  "fontWeight":{"condition":{"test":"datum.label==='TV'","value":"bold"},"value":"normal"},
  "size":{"condition":{"test":"datum.label==='TV'","value":9},"value":10}}}
]
}
